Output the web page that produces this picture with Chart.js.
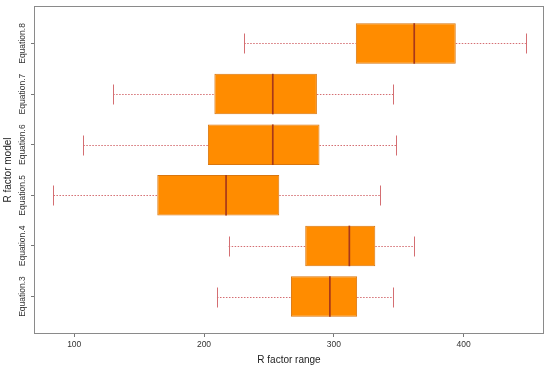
<!DOCTYPE html>
<html>
<head>
<meta charset="utf-8">
<script src="https://cdn.jsdelivr.net/npm/chart.js@4"></script>
<style>
  html, body { margin: 0; padding: 0; background: #fff; }
  #wrap { width: 550px; height: 369px; }
</style>
</head>
<body>
<div id="wrap"><canvas id="myChart" width="550" height="369"></canvas></div>
<script>
// ================= Data =================
const categories = ['Equation.3', 'Equation.4', 'Equation.5', 'Equation.6', 'Equation.7', 'Equation.8'];
const whiskerLow = [210, 219, 84, 107, 130, 231];
const q1 = [267, 278, 164, 203, 208, 317];
const median = [297, 312, 217, 253, 253, 362];
const q3 = [318, 332, 258, 289, 287, 394];
const whiskerHigh = [346, 362, 336, 348, 346, 448];
const xTicks = [100, 200, 300, 400];

const FONT = 'Liberation Sans, Arial, sans-serif';

// ================= Whiskers / medians / frame =================
const boxExtras = {
  id: 'boxExtras',
  beforeDatasetsDraw(chart) {
    const { ctx, scales: { x, y } } = chart;
    const cap = 10;
    ctx.save();
    ctx.strokeStyle = '#d46e72';
    ctx.lineWidth = 1;
    categories.forEach((c, i) => {
      const py = Math.round(y.getPixelForValue(i + 1)) + 0.5;
      const lo = x.getPixelForValue(whiskerLow[i]);
      const hi = x.getPixelForValue(whiskerHigh[i]);
      ctx.setLineDash([1.5, 1.5]);
      ctx.beginPath();
      ctx.moveTo(lo, py); ctx.lineTo(x.getPixelForValue(q1[i]), py);
      ctx.moveTo(x.getPixelForValue(q3[i]), py); ctx.lineTo(hi, py);
      ctx.stroke();
      ctx.setLineDash([]);
      ctx.beginPath();
      ctx.moveTo(Math.round(lo) + 0.5, py - cap); ctx.lineTo(Math.round(lo) + 0.5, py + cap);
      ctx.moveTo(Math.round(hi) + 0.5, py - cap); ctx.lineTo(Math.round(hi) + 0.5, py + cap);
      ctx.stroke();
    });
    ctx.restore();
  },
  afterDatasetsDraw(chart) {
    const { ctx, scales: { x } } = chart;
    const meta = chart.getDatasetMeta(0);
    ctx.save();
    ctx.strokeStyle = '#a8381a';
    ctx.lineWidth = 1.7;
    meta.data.forEach((bar, i) => {
      const h = bar.height / 2;
      const px = x.getPixelForValue(median[i]);
      ctx.beginPath();
      ctx.moveTo(px, bar.y - h);
      ctx.lineTo(px, bar.y + h);
      ctx.stroke();
    });
    // plot frame
    const a = chart.chartArea;
    ctx.strokeStyle = '#8a8a8a';
    ctx.lineWidth = 1;
    ctx.strokeRect(a.left + 0.5, a.top + 0.5, a.right - a.left - 1, a.bottom - a.top - 1);
    ctx.restore();
  }
};

// ================= Chart =================
const ctx = document.getElementById('myChart');

new Chart(ctx, {
  type: 'bar',
  data: {
    datasets: [{
      data: categories.map((c, i) => ({ x: [q1[i], q3[i]], y: i + 1 })),
      backgroundColor: '#ff8c00',
      borderColor: '#d9760e',
      borderWidth: 1,
      borderSkipped: false,
      barPercentage: 0.8,
      categoryPercentage: 1
    }]
  },
  options: {
    indexAxis: 'y',
    responsive: false,
    animation: false,
    layout: { padding: { top: 6, right: 6, left: 0, bottom: 0 } },
    plugins: {
      legend: { display: false },
      tooltip: { enabled: false }
    },
    scales: {
      x: {
        type: 'linear',
        min: 69,
        max: 462,
        afterBuildTicks: axis => { axis.ticks = xTicks.map(v => ({ value: v })); },
        afterFit: axis => { axis.height = 35; },
        grid: { display: true, drawOnChartArea: false, drawTicks: true, tickLength: 3, color: '#777' },
        border: { display: false },
        ticks: { font: { family: FONT, size: 8.5 }, color: '#333', padding: 3, maxRotation: 0 },
        title: { display: true, text: 'R factor range', font: { family: FONT, size: 10 }, color: '#222', padding: { top: 0, bottom: 3 } }
      },
      y: {
        type: 'linear',
        min: 0.26,
        max: 6.74,
        offset: false,
        afterBuildTicks: axis => { axis.ticks = categories.map((c, i) => ({ value: i + 1 })); },
        afterFit: axis => { axis.width = 34; },
        grid: { display: true, offset: false, drawOnChartArea: false, drawTicks: true, tickLength: 3, color: '#777' },
        border: { display: false },
        ticks: {
          callback: v => categories[v - 1],
          font: { family: FONT, size: 8.5 },
          color: '#333',
          minRotation: 90,
          maxRotation: 90,
          autoSkip: false,
          crossAlign: 'center',
          padding: -12
        },
        title: { display: true, text: 'R factor model', font: { family: FONT, size: 10 }, color: '#222', padding: { top: 2, bottom: 0 } }
      }
    }
  },
  plugins: [boxExtras]
});
</script>
</body>
</html>
